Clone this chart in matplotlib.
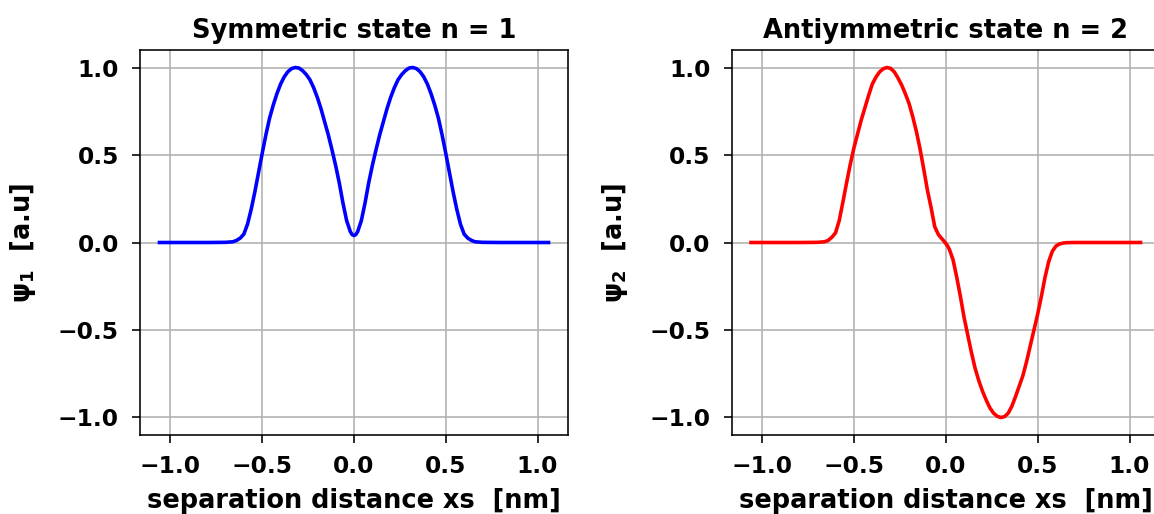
import matplotlib.pyplot as plt

plt.rcParams['font.weight'] = 'bold'
plt.rcParams['axes.titleweight'] = 'bold'
plt.rcParams['axes.labelweight'] = 'bold'
plt.rcParams['xtick.labelsize'] = 11.7
plt.rcParams['ytick.labelsize'] = 11.7
plt.rcParams['axes.labelsize'] = 12.8
plt.rcParams['axes.titlesize'] = 12.9
plt.rcParams['xtick.major.size'] = 4
plt.rcParams['ytick.major.size'] = 4
plt.rcParams['xtick.major.pad'] = 6
plt.rcParams['ytick.major.pad'] = 6.5

# separation distance [nm]
xs = [-1.06, -0.9, -0.8, -0.7, -0.66, -0.64, -0.62, -0.60, -0.58, -0.56,
      -0.54, -0.52, -0.50, -0.48, -0.46, -0.44, -0.42, -0.40, -0.38, -0.36,
      -0.34, -0.32, -0.30, -0.28, -0.26, -0.24, -0.22, -0.20, -0.18, -0.16,
      -0.14, -0.12, -0.10, -0.08, -0.06, -0.04, -0.02, -0.01, 0.0,
      0.01, 0.02, 0.04, 0.06, 0.08, 0.10, 0.12, 0.14, 0.16, 0.18,
      0.20, 0.22, 0.24, 0.26, 0.28, 0.30, 0.32, 0.34, 0.36, 0.38,
      0.40, 0.42, 0.44, 0.46, 0.48, 0.50, 0.52, 0.54, 0.56, 0.58,
      0.60, 0.62, 0.64, 0.66, 0.7, 0.8, 0.9, 1.06]

# symmetric state psi_1
psi1 = [0.0, 0.0, 0.0, 0.001, 0.004, 0.012, 0.025, 0.048, 0.105, 0.19,
        0.29, 0.40, 0.51, 0.615, 0.71, 0.785, 0.85, 0.905, 0.947, 0.976,
        0.994, 1.0, 0.997, 0.982, 0.96, 0.93, 0.885, 0.83, 0.765, 0.69,
        0.615, 0.53, 0.44, 0.34, 0.225, 0.125, 0.062, 0.045, 0.04,
        0.045, 0.062, 0.125, 0.225, 0.34, 0.44, 0.53, 0.615, 0.69, 0.765,
        0.83, 0.885, 0.93, 0.96, 0.982, 0.997, 1.0, 0.994, 0.976, 0.947,
        0.905, 0.85, 0.785, 0.71, 0.615, 0.51, 0.40, 0.29, 0.19, 0.105,
        0.048, 0.025, 0.012, 0.004, 0.001, 0.0, 0.0, 0.0]

# antisymmetric state psi_2
psi2 = [0.0, 0.0, 0.0, 0.001, 0.004, 0.012, 0.03, 0.055, 0.125, 0.23,
        0.34, 0.445, 0.54, 0.62, 0.70, 0.77, 0.84, 0.905, 0.945, 0.975,
        0.993, 1.0, 0.995, 0.975, 0.94, 0.90, 0.85, 0.795, 0.72, 0.635,
        0.535, 0.42, 0.30, 0.20, 0.09, 0.045, 0.02, 0.008, -0.005,
        -0.02, -0.04, -0.10, -0.20, -0.31, -0.43, -0.53, -0.63, -0.72, -0.79,
        -0.85, -0.90, -0.945, -0.975, -0.993, -1.0, -0.995, -0.975, -0.935, -0.88,
        -0.82, -0.76, -0.68, -0.59, -0.50, -0.41, -0.31, -0.20, -0.11, -0.05,
        -0.02, -0.008, -0.003, -0.001, 0.0, 0.0, 0.0, 0.0]

fig = plt.figure(figsize=(1154 / 144, 514 / 144), dpi=144)
ax1 = fig.add_axes([0.1213, 0.1537, 0.3709, 0.749])
ax2 = fig.add_axes([0.6339, 0.1537, 0.3713, 0.749])

ax1.plot(xs, psi1, color='b', linewidth=1.8)
ax1.set_title('Symmetric state n = 1')
ax1.set_ylabel('ψ$_1$  [a.u]', labelpad=10)

ax2.plot(xs, psi2, color='r', linewidth=1.8)
ax2.set_title('Antiymmetric state n = 2')
ax2.set_ylabel('ψ$_2$  [a.u]', labelpad=10)

for ax in (ax1, ax2):
    ax.set_xlabel('separation distance xs  [nm]', labelpad=5)
    ax.set_ylim(-1.1, 1.1)
    ax.set_yticks([-1.0, -0.5, 0.0, 0.5, 1.0])
    ax.set_xticks([-1.0, -0.5, 0.0, 0.5, 1.0])
    ax.grid(True)

fig.savefig('out.png', dpi=144)
